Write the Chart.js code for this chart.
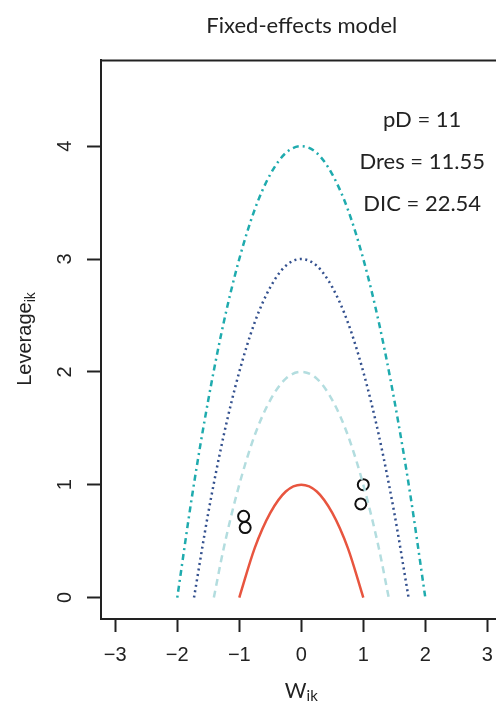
<!DOCTYPE html>
<html><head><meta charset="utf-8">
<script src="https://cdn.jsdelivr.net/npm/chart.js@4"></script>
<style>html,body{margin:0;padding:0;overflow:hidden;background:#fff}#wrap{width:510px;height:702px}</style>
</head><body><div id="wrap"><canvas id="c" width="510" height="702"></canvas></div>
<script>
const chartTitle = 'Fixed-effects model';
const xTitleMain = 'W', xTitleSub = 'ik';
const yTitleMain = 'Leverage', yTitleSub = 'ik';
const xTicks = [-3, -2, -1, 0, 1, 2, 3];
const yTicks = [0, 1, 2, 3, 4];
const annotations = ['pD = 11', 'Dres = 11.55', 'DIC = 22.54'];
const annotationY = [4.23, 3.86, 3.49];
const annotationX = 1.95;

// curve: leverage contour 1
const c1X = [-1, -0.75, -0.5, -0.25, 0, 0.25, 0.5, 0.75, 1];
const c1Y = [0, 0.44, 0.75, 0.94, 1, 0.94, 0.75, 0.44, 0];
// contour 2
const c2X = [-1.41, -1.25, -1, -0.75, -0.5, -0.25, 0, 0.25, 0.5, 0.75, 1, 1.25, 1.41];
const c2Y = [0, 0.44, 1, 1.44, 1.75, 1.94, 2, 1.94, 1.75, 1.44, 1, 0.44, 0];
// contour 3
const c3X = [-1.73, -1.5, -1.25, -1, -0.75, -0.5, -0.25, 0, 0.25, 0.5, 0.75, 1, 1.25, 1.5, 1.73];
const c3Y = [0, 0.75, 1.44, 2, 2.44, 2.75, 2.94, 3, 2.94, 2.75, 2.44, 2, 1.44, 0.75, 0];
// contour 4
const c4X = [-2, -1.75, -1.5, -1.25, -1, -0.75, -0.5, -0.25, 0, 0.25, 0.5, 0.75, 1, 1.25, 1.5, 1.75, 2];
const c4Y = [0, 0.94, 1.75, 2.44, 3, 3.44, 3.75, 3.94, 4, 3.94, 3.75, 3.44, 3, 2.44, 1.75, 0.94, 0];
// observed points
const ptX = [-0.93, -0.905, 0.96, 1.0];
const ptY = [0.72, 0.62, 0.83, 1.0];

const zip = (xs, ys) => xs.map((x, i) => ({x, y: ys[i]}));
const lineDs = (xs, ys, color, dash, w) => ({
  data: zip(xs, ys), showLine: true, borderColor: color, borderWidth: w,
  borderDash: dash, pointRadius: 0, fill: false, cubicInterpolationMode: 'monotone', borderCapStyle: 'butt'
});

const TICKFONT = '"Liberation Sans", Arial, sans-serif';
const LATO = 'Lato, sans-serif';

const extras = {
  id: 'extras',
  afterDraw(chart) {
    const ctx = chart.ctx, a = chart.chartArea;
    const xs = chart.scales.x, ys = chart.scales.y;
    ctx.save();
    // top frame line
    ctx.strokeStyle = '#222'; ctx.lineWidth = 2;
    ctx.beginPath(); ctx.moveTo(a.left - 1, a.top); ctx.lineTo(a.right + 1, a.top); ctx.stroke();
    ctx.beginPath(); ctx.moveTo(a.right, a.top); ctx.lineTo(a.right, a.bottom); ctx.stroke();
    // y tick labels rotated
    ctx.fillStyle = '#222';
    ctx.font = '20px ' + TICKFONT;
    ctx.textAlign = 'center'; ctx.textBaseline = 'middle';
    yTicks.forEach(v => {
      const py = ys.getPixelForValue(v);
      ctx.save(); ctx.translate(65, py); ctx.rotate(-Math.PI / 2);
      ctx.fillText(String(v), 0, 0); ctx.restore();
    });
    // y title
    ctx.save();
    ctx.translate(31, 339); ctx.rotate(-Math.PI / 2);
    ctx.font = '20px ' + TICKFONT;
    const wm = ctx.measureText(yTitleMain).width;
    ctx.font = '14px ' + TICKFONT;
    const ws = ctx.measureText(yTitleSub).width;
    const start = -(wm + ws) / 2;
    ctx.textAlign = 'left'; ctx.textBaseline = 'alphabetic';
    ctx.font = '20px ' + TICKFONT; ctx.fillText(yTitleMain, start, 0);
    ctx.font = '14px ' + TICKFONT; ctx.fillText(yTitleSub, start + wm, 4);
    ctx.restore();
    // x title
    const xc = xs.getPixelForValue(0);
    ctx.font = '21px ' + LATO;
    const xm = ctx.measureText(xTitleMain).width;
    ctx.font = '15px ' + LATO;
    const xsw = ctx.measureText(xTitleSub).width;
    const cx = xc - (xm + xsw) / 2;
    ctx.textAlign = 'left'; ctx.textBaseline = 'alphabetic';
    ctx.font = '21px ' + LATO; ctx.fillText(xTitleMain, cx, 698);
    ctx.font = '15px ' + LATO; ctx.fillText(xTitleSub, cx + xm, 701);
    // annotations
    ctx.font = '22px ' + LATO; ctx.textAlign = 'center'; ctx.textBaseline = 'middle';
    annotations.forEach((t, i) => {
      ctx.fillText(t, xs.getPixelForValue(annotationX), ys.getPixelForValue(annotationY[i]));
    });
    ctx.restore();
  }
};

new Chart(document.getElementById('c'), {
  type: 'scatter',
  data: {
    datasets: [
      lineDs(c1X, c1Y, '#E8553F', [], 2.5),
      lineDs(c2X, c2Y, '#B3DDDF', [7, 5], 2.5),
      lineDs(c3X, c3Y, '#33508E', [2, 3.5], 2.5),
      lineDs(c4X, c4Y, '#1FABAE', [2, 4, 6, 4], 2.5),
      { data: zip(ptX, ptY), showLine: false, pointRadius: 5.5, pointBorderWidth: 2,
        pointBorderColor: '#111', pointBackgroundColor: 'rgba(0,0,0,0)', borderColor: '#111' }
    ]
  },
  options: {
    responsive: false, animation: false, devicePixelRatio: 1,
    layout: { padding: { left: 0, right: 0, top: 0, bottom: 0 } },
    plugins: {
      legend: { display: false }, tooltip: { enabled: false },
      title: { display: true, text: chartTitle, fullSize: false, align: 'center', color: '#222',
        font: { family: LATO, size: 22, weight: 'normal' }, padding: { top: 13, bottom: 21 } }
    },
    scales: {
      x: {
        type: 'linear', min: -3.23, max: 3.245,
        afterBuildTicks: s => { s.ticks = xTicks.map(v => ({value: v})); },
        afterFit: s => { s.height = 83; },
        grid: { display: true, drawOnChartArea: false, drawTicks: true, tickLength: 13, tickColor: '#222', tickWidth: 2 },
        border: { display: true, color: '#222', width: 2 },
        ticks: { color: '#222', padding: 11, font: { family: TICKFONT, size: 20 },
          callback: v => (v < 0 ? '\u2212' + Math.abs(v) : String(v)), maxRotation: 0, minRotation: 0 }
      },
      y: {
        type: 'linear', min: -0.19, max: 4.76,
        afterBuildTicks: s => { s.ticks = yTicks.map(v => ({value: v})); },
        afterFit: s => { s.width = 101; },
        grid: { display: true, drawOnChartArea: false, drawTicks: true, tickLength: 14, tickColor: '#222', tickWidth: 2 },
        border: { display: true, color: '#222', width: 2 },
        ticks: { color: 'rgba(0,0,0,0)', font: { family: TICKFONT, size: 20 }, callback: v => String(v) }
      }
    }
  },
  plugins: [extras]
});
</script></body></html>
